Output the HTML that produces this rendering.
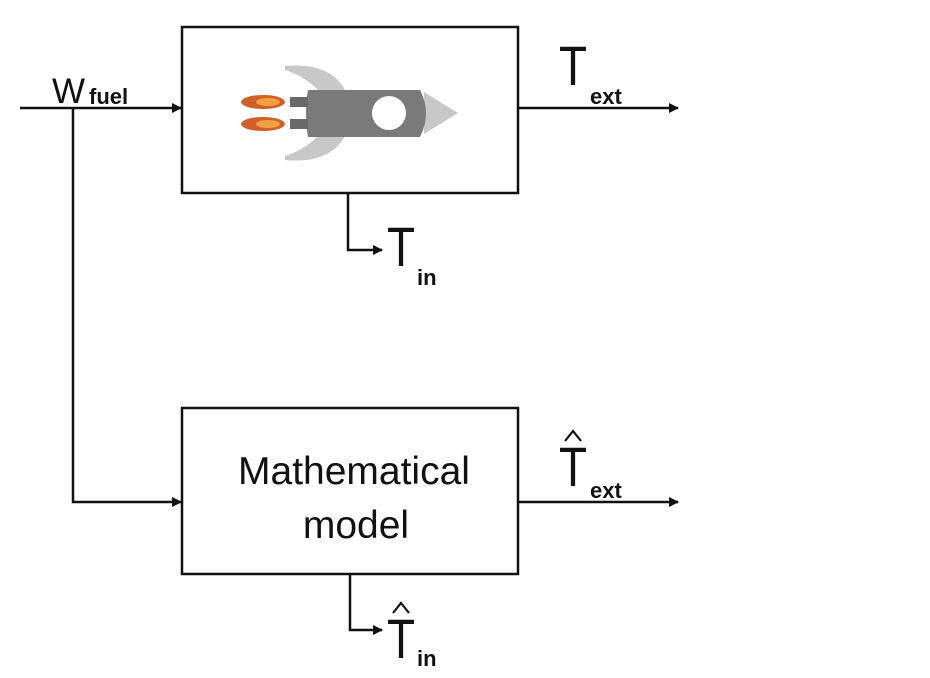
<!DOCTYPE html>
<html><head><style>html,body{margin:0;padding:0;background:#fff;width:930px;height:678px;overflow:hidden}</style></head>
<body>
<svg width="930" height="678" viewBox="0 0 930 678" xmlns="http://www.w3.org/2000/svg" font-family="Liberation Sans, sans-serif" fill="#111">
<defs><marker id="a" markerWidth="10" markerHeight="10" refX="9" refY="5" orient="auto" markerUnits="userSpaceOnUse"><path d="M0,0 L10,5 L0,10 Z" fill="#111"/></marker></defs>
<g stroke="#111" stroke-width="2.5" fill="none">
<rect x="182" y="27" width="336" height="166"/>
<rect x="182" y="408" width="336" height="166"/>
<line x1="20" y1="108" x2="181" y2="108" marker-end="url(#a)"/>
<polyline points="73,108 73,502 181,502" marker-end="url(#a)"/>
<line x1="518" y1="108" x2="678" y2="108" marker-end="url(#a)"/>
<line x1="518" y1="502" x2="678" y2="502" marker-end="url(#a)"/>
<polyline points="348,193 348,250 382,250" marker-end="url(#a)"/>
<polyline points="350,574 350,630 382,630" marker-end="url(#a)"/>
<polyline points="565,441 573,431 581,441" stroke-width="2.2"/>
<polyline points="393,613 401,603 409,613" stroke-width="2.2"/>
</g>
<!-- rocket -->
<path d="M285,66 Q330,62 345,90 L320,92 Q305,76 285,70 Z" fill="#c8c8c8"/>
<path d="M285,160 Q330,164 345,136 L320,134 Q305,150 285,156 Z" fill="#c8c8c8"/>
<path d="M424,92 L458,113 L424,134 Z" fill="#c8c8c8"/>
<path d="M308,90 L420,90 Q432,113 420,137 L308,137 Q304,113 308,90 Z" fill="#7a7a7a"/>
<circle cx="389" cy="113" r="17" fill="#fff"/>
<rect x="290" y="97" width="18" height="10" fill="#6a6a6a"/>
<rect x="290" y="119" width="18" height="10" fill="#6a6a6a"/>
<ellipse cx="263" cy="102" rx="22" ry="7" fill="#d0602a"/>
<ellipse cx="263" cy="124" rx="22" ry="7" fill="#d0602a"/>
<ellipse cx="268" cy="102" rx="12" ry="4" fill="#f0a040"/>
<ellipse cx="268" cy="124" rx="12" ry="4" fill="#f0a040"/>
<!-- labels -->
<text x="52" y="103" font-size="35">W</text>
<text x="89" y="104" font-size="22" font-weight="bold">fuel</text>
<text x="559" y="85" font-size="56" transform="translate(559 0) scale(0.82 1) translate(-559 0)">T</text>
<text x="590" y="104" font-size="22" font-weight="bold">ext</text>
<text x="387" y="266" font-size="56" transform="translate(387 0) scale(0.82 1) translate(-387 0)">T</text>
<text x="417" y="285" font-size="22" font-weight="bold">in</text>
<text x="559" y="486" font-size="56" transform="translate(559 0) scale(0.82 1) translate(-559 0)">T</text>
<text x="590" y="498" font-size="22" font-weight="bold">ext</text>
<text x="387" y="658" font-size="56" transform="translate(387 0) scale(0.82 1) translate(-387 0)">T</text>
<text x="417" y="666" font-size="22" font-weight="bold">in</text>
<text x="354" y="484" font-size="39" text-anchor="middle">Mathematical</text>
<text x="356" y="538" font-size="39" text-anchor="middle">model</text>
</svg>
</body></html>
